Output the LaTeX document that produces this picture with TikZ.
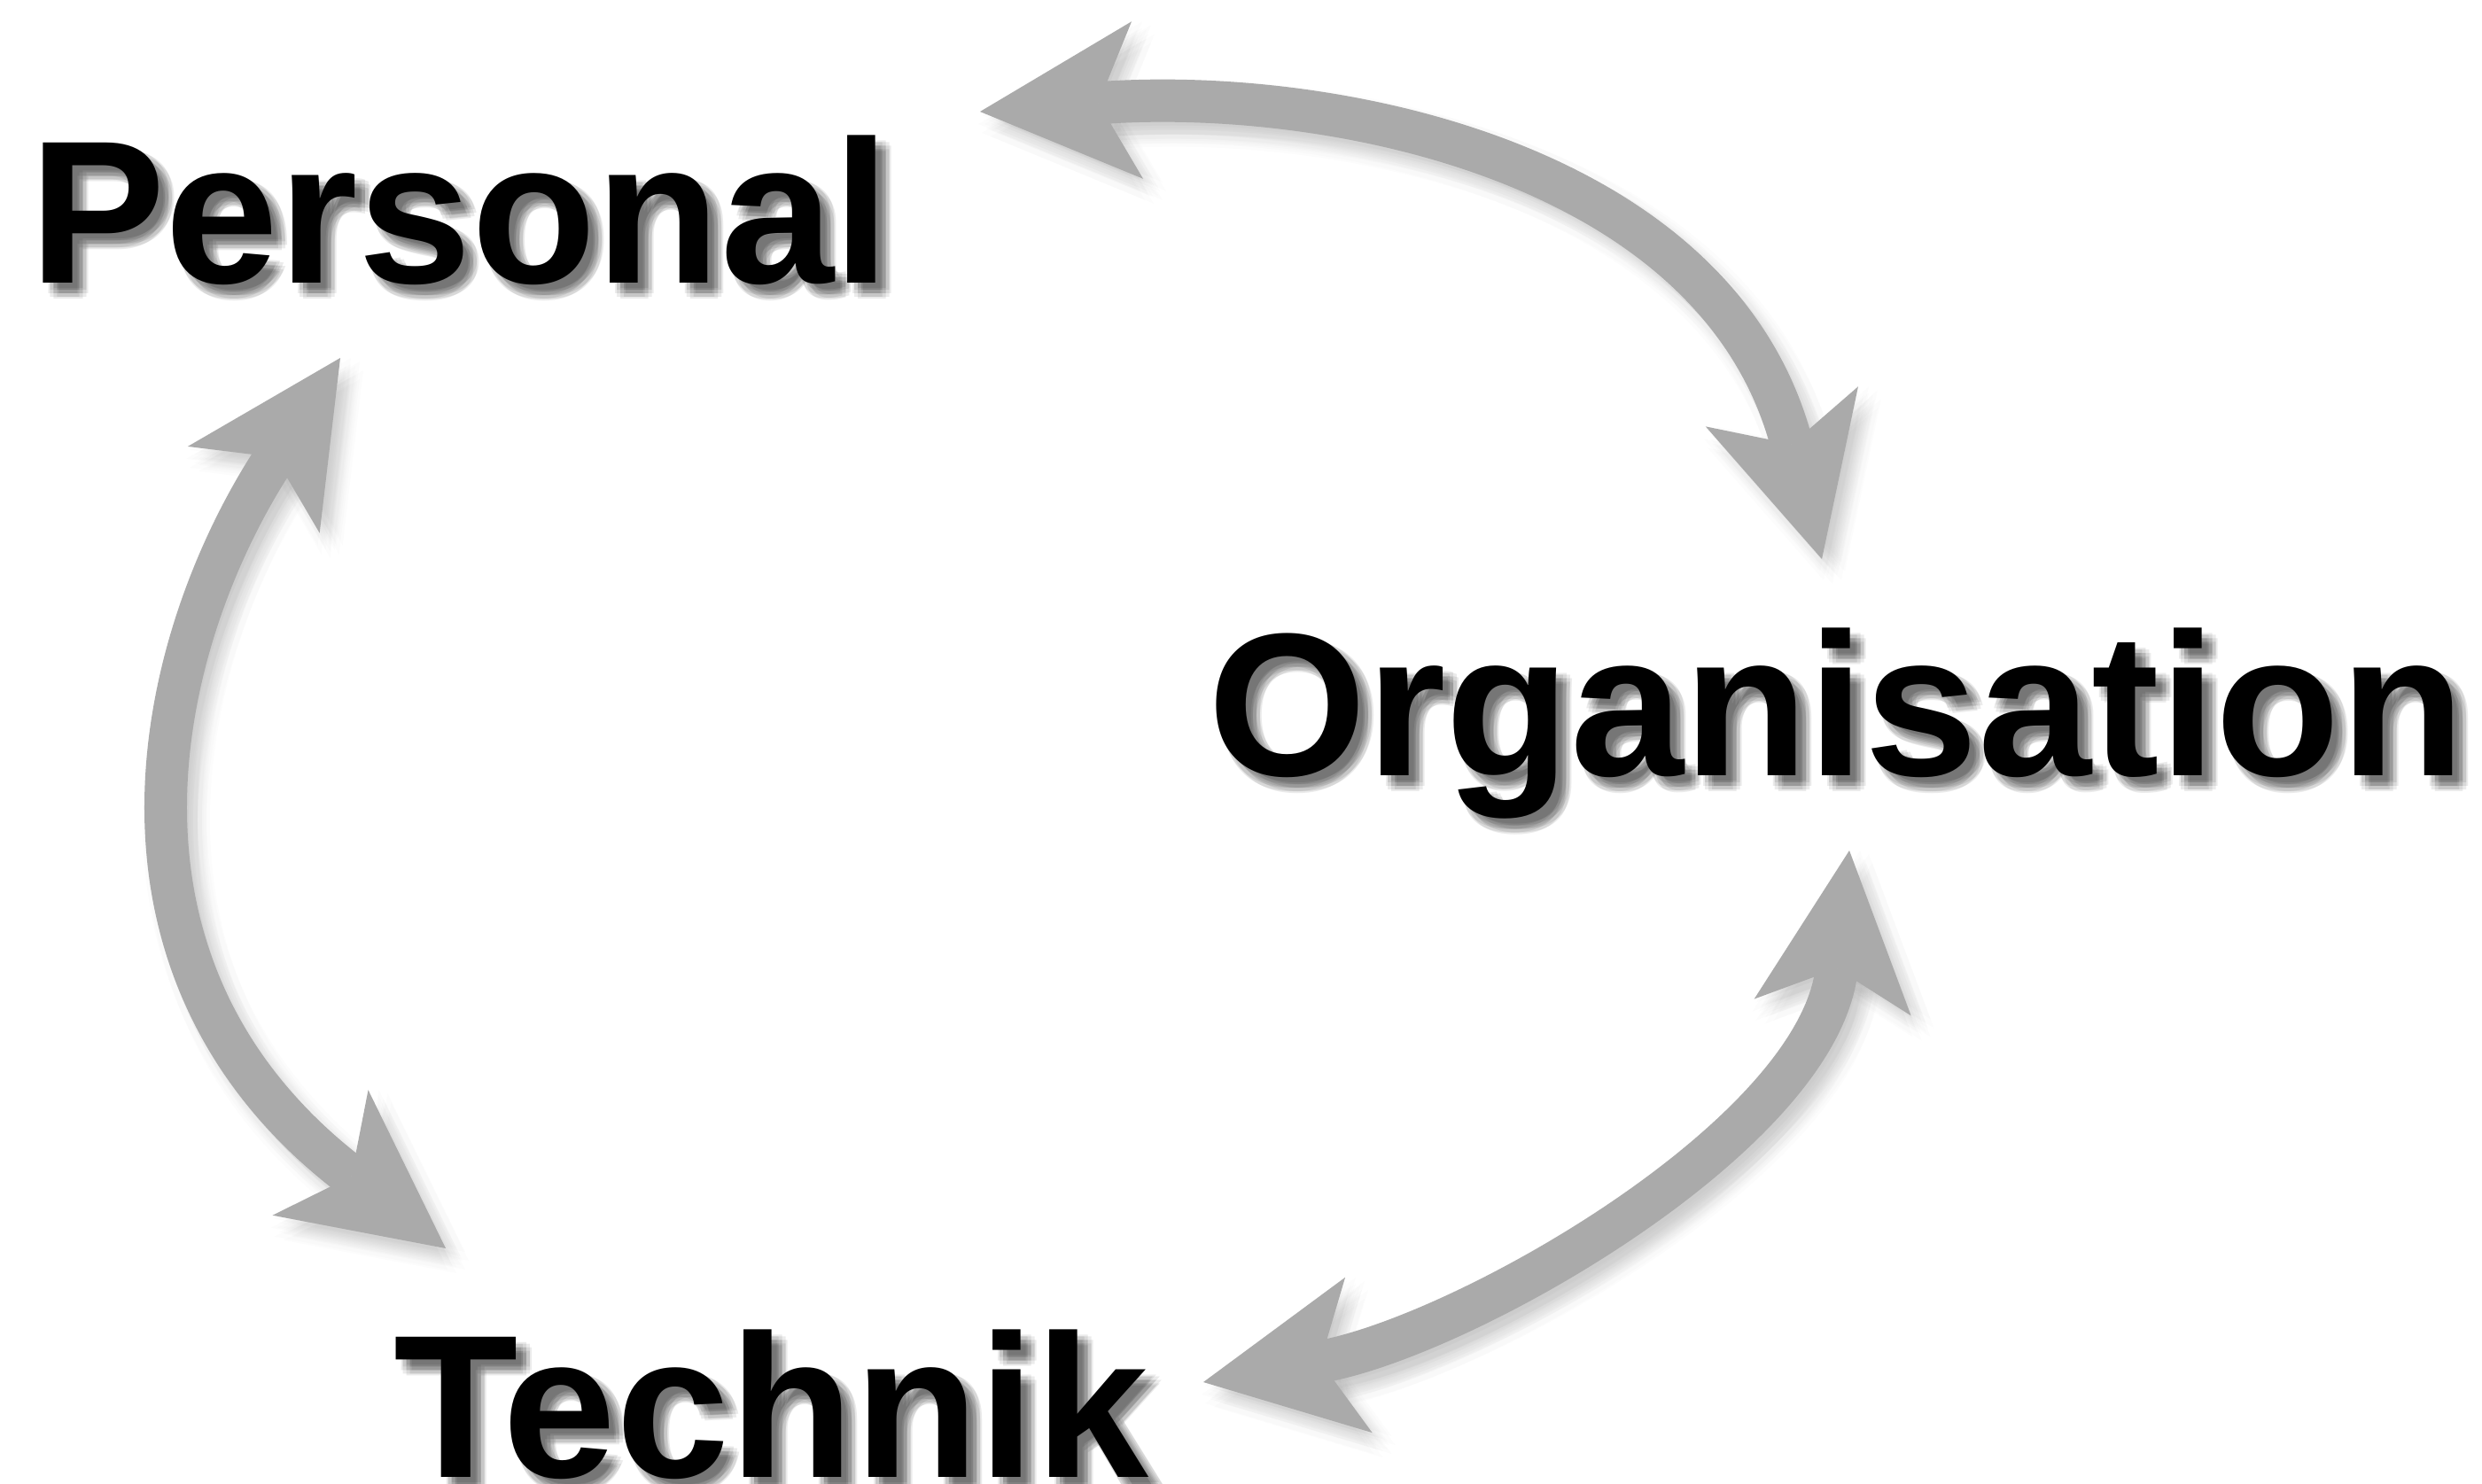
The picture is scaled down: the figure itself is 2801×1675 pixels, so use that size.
\documentclass[tikz,border=0pt]{standalone}
\usepackage{fontspec}
\setmainfont{Liberation Sans}
\usetikzlibrary{arrows.meta}
\definecolor{arrowgray}{RGB}{170,170,170}
\newcommand\drawarrowset[1]{%
  \draw[bigarrow,#1] (pA) .. controls (1506.6,96.7) and (1939.2,185.2) .. (pB);
  \draw[bigarrow,#1] (pC) .. controls (176.1,720.6) and (86.9,1091.3) .. (pD);
  \draw[bigarrow,#1] (pE) .. controls (2052.8,1280.9) and (1650.6,1509) .. (pF);}
\newcommand\drawwords[1]{%
  \node[word,#1] (personal) at (33,319) {Personal};
  \node[word,#1] (organisation) at (1363,875) {Organisation};
  \node[word,#1] (technik) at (444,1667) {Technik};}
\begin{document}
\begin{tikzpicture}[x=0.5pt,y=-0.5pt,
  word/.style={inner sep=0pt, anchor=base west, font=\fontsize{115pt}{115pt}\selectfont\bfseries},
  bigarrow/.style={line width=24pt,
    arrows={Stealth[length=89pt,width=89pt,inset=22pt,line width=0pt]-Stealth[length=89pt,width=89pt,inset=22pt,line width=0pt]}}]
\useasboundingbox (0,0) rectangle (2801,1675);
\fill[white] (0,0) rectangle (2801,1675);

\coordinate (pA) at (1106,126);
\coordinate (pB) at (2056,631);
\coordinate (pC) at (384,404);
\coordinate (pD) at (503,1409);
\coordinate (pE) at (2087,960);
\coordinate (pF) at (1358,1560);

% soft drop shadow of the arrows
\foreach \dx/\dy in {12/14,19/14,5/14,12/21,12/7,17/19,7/19,17/9,7/9,
                     26/14,-2/14,12/28,12/0,22/24,2/24,22/4,2/4}{
  \begin{scope}[transform canvas={shift={(\dx,\dy)}}]
    \drawarrowset{draw=black, opacity=0.012}
  \end{scope}}

\drawarrowset{draw=arrowgray}

% soft drop shadow of the words
\foreach \dx/\dy in {12/12,18/12,6/12,12/18,12/6,16/16,8/16,16/8,8/8}{
  \begin{scope}[transform canvas={shift={(\dx,\dy)}}]
    \drawwords{text=black, text opacity=0.08}
  \end{scope}}

\drawwords{text=black}
\end{tikzpicture}
\end{document}
